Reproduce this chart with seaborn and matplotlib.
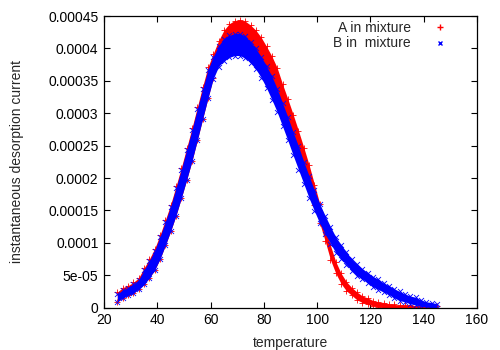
import numpy as np
import pandas as pd
import seaborn as sns
import matplotlib.pyplot as plt
from matplotlib.lines import Line2D

# temperature grid and band edges (lower / upper) of each scatter cloud, in units of 1e-6
temperature = list(range(25, 146, 2))

a_low = [9, 15, 19, 22, 29, 36, 46, 58, 75, 96, 118, 142, 169, 197, 226, 258, 291, 323,
         355, 377, 392, 402, 407, 408, 406, 400, 392, 381, 369, 354, 336, 311, 288, 264,
         239, 213, 186, 158, 130, 103, 74, 53, 37, 26, 19, 12, 8, 5, 3, 1, 0, 0, 0, 0,
         0, 0, 0, 0, 0, 0, 0]
a_high = [24, 31, 34, 39, 46, 61, 75, 91, 112, 135, 159, 187, 216, 246, 277, 309, 341, 371,
          392, 412, 428, 438, 443, 444, 442, 436, 428, 417, 403, 388, 370, 345, 322, 298,
          273, 247, 220, 190, 160, 129, 96, 71, 53, 40, 31, 24, 18, 15, 11, 9, 8, 6, 5,
          4, 4, 4, 3, 3, 3, 3, 3]

b_low = [9, 15, 19, 22, 29, 36, 46, 58, 75, 96, 118, 142, 169, 197, 226, 258, 291, 323,
         353, 372, 381, 386, 389, 389, 385, 378, 368, 355, 339, 321, 302, 280, 258, 235,
         213, 191, 169, 149, 130, 114, 99, 85, 75, 66, 57, 49, 44, 38, 32, 28, 24, 20, 15,
         11, 9, 6, 4, 2, 1, 0, 0]
b_high = [21, 27, 31, 36, 43, 58, 72, 88, 109, 132, 156, 184, 213, 243, 274, 306, 337, 367,
          387, 404, 415, 420, 423, 423, 419, 410, 400, 387, 373, 357, 338, 316, 294, 271,
          249, 225, 203, 181, 160, 142, 125, 109, 97, 86, 75, 67, 60, 54, 48, 44, 38, 34,
          29, 25, 21, 18, 16, 12, 9, 8, 6]

y_ticks = [0, 5e-05, 1e-04, 1.5e-04, 2e-04, 2.5e-04, 3e-04, 3.5e-04, 4e-04, 4.5e-04]
y_tick_labels = ['0', '5e-05', '0.0001', '0.00015', '0.0002', '0.00025', '0.0003',
                 '0.00035', '0.0004', '0.00045']
x_ticks = [20, 40, 60, 80, 100, 120, 140, 160]

sns.set_style('ticks')
plt.rcParams['font.family'] = ['Liberation Sans', 'DejaVu Sans']
plt.rcParams['font.size'] = 10


def long_form(low, high):
    return pd.DataFrame({'temperature': temperature * 2,
                         'current': np.array(low + high) * 1e-6})


fig = plt.figure(figsize=(5, 3.5), dpi=100)
ax = fig.add_axes([104 / 500, 1 - 307.7 / 350, 373 / 500, 291.7 / 350])

for low, high, colour, marker in [(a_low, a_high, '#ff0000', '+'),
                                  (b_low, b_high, '#0000ff', 'x')]:
    df = long_form(low, high)
    # filled band between the lower and upper edge of the cloud
    sns.lineplot(data=df, x='temperature', y='current', estimator='mean',
                 errorbar=('pi', 100), color=colour, linewidth=0,
                 err_kws={'alpha': 1, 'linewidth': 0}, ax=ax)
    # points on the edges to rough up the outline
    sns.scatterplot(data=df, x='temperature', y='current', marker=marker,
                    color=colour, s=13, linewidth=0.6, ax=ax)

ax.set_xlim(20, 160)
ax.set_ylim(0, 0.00045)
ax.set_xticks(x_ticks)
ax.set_yticks(y_ticks)
ax.set_yticklabels(y_tick_labels)
ax.tick_params(direction='in', top=True, right=True, length=4, width=0.8, pad=4,
               colors='black', labelsize=10)
for spine in ax.spines.values():
    spine.set_color('black')
    spine.set_linewidth(0.9)

ax.set_xlabel('temperature')
ax.set_ylabel('instantaneous desorption current')
ax.xaxis.set_label_coords(0.5, -0.097)
ax.yaxis.set_label_coords(-0.214, 0.5)

handles = [Line2D([], [], linestyle='none', marker='+', color='#ff0000', markersize=4),
           Line2D([], [], linestyle='none', marker='x', color='#0000ff', markersize=3.5)]
ax.legend(handles, ['A in mixture', 'B in  mixture'], loc='upper right',
          bbox_to_anchor=(454 / 500, 1 - 21 / 350), bbox_transform=fig.transFigure,
          markerfirst=False, frameon=False, borderaxespad=0, borderpad=0,
          handlelength=2.0, handletextpad=1.1, labelspacing=0.1, fontsize=10)

fig.savefig('out.png', dpi=100)
